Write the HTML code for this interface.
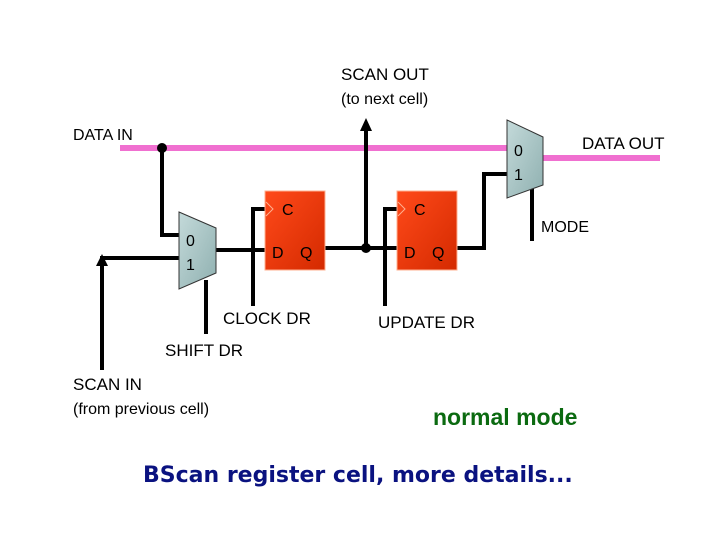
<!DOCTYPE html>
<html><head><meta charset="utf-8"><style>
html,body{margin:0;padding:0;background:#fff;}
svg{display:block;}
text{font-family:"Liberation Sans",Arial,sans-serif;fill:#000;}
</style></head><body>
<svg width="720" height="540" viewBox="0 0 720 540" xmlns="http://www.w3.org/2000/svg">
<defs>
<linearGradient id="ff" x1="0" y1="0" x2="1" y2="1"><stop offset="0" stop-color="#ff4a1a"/><stop offset="1" stop-color="#d42a00"/></linearGradient>
<linearGradient id="mx" x1="0" y1="0" x2="1" y2="1"><stop offset="0" stop-color="#c4dada"/><stop offset="1" stop-color="#8fb0b0"/></linearGradient>
</defs>
<!-- pink lines -->
<line x1="120" y1="148" x2="508" y2="148" stroke="#f070d0" stroke-width="6"/>
<line x1="543" y1="158" x2="660" y2="158" stroke="#f070d0" stroke-width="6"/>
<g stroke="#000" stroke-width="4" fill="none">
<polyline points="162,148 162,235 180,235"/>
<polyline points="102,370 102,258 180,258"/>
<line x1="216" y1="250" x2="265" y2="250"/>
<polyline points="253,306 253,209 267,209"/>
<line x1="206" y1="280" x2="206" y2="334"/>
<line x1="325" y1="248" x2="398" y2="248"/>
<line x1="366" y1="248" x2="366" y2="128"/>
<polyline points="385,306 385,209 398,209"/>
<polyline points="457,248 484,248 484,174 508,174"/>
<line x1="532" y1="185" x2="532" y2="241"/>
</g>
<polygon points="102,254 96,266 108,266" fill="#000"/>
<polygon points="366,118 360,131 372,131" fill="#000"/>
<circle cx="162" cy="148" r="5" fill="#000"/>
<circle cx="366" cy="248" r="5" fill="#000"/>
<!-- flip flops -->
<rect x="265" y="191" width="60" height="79" fill="url(#ff)" stroke="#ffb090" stroke-width="1"/>
<rect x="397" y="191" width="60" height="79" fill="url(#ff)" stroke="#ffb090" stroke-width="1"/>
<polyline points="266,202 273,209 266,216" fill="none" stroke="#ffb090" stroke-width="1"/>
<polyline points="398,202 405,209 398,216" fill="none" stroke="#ffb090" stroke-width="1"/>
<text x="282" y="215" font-size="16">C</text>
<text x="414" y="215" font-size="16">C</text>
<text x="272" y="258" font-size="16">D</text>
<text x="300" y="258" font-size="16">Q</text>
<text x="404" y="258" font-size="16">D</text>
<text x="432" y="258" font-size="16">Q</text>
<!-- muxes -->
<polygon points="179,212 216,228 216,273 179,289" fill="url(#mx)" stroke="#333" stroke-width="1"/>
<polygon points="507,120 543,137 543,185 507,198" fill="url(#mx)" stroke="#333" stroke-width="1"/>
<text x="186" y="246" font-size="16">0</text>
<text x="186" y="270" font-size="16">1</text>
<text x="514" y="156" font-size="16">0</text>
<text x="514" y="180" font-size="16">1</text>
<!-- labels -->
<text x="341" y="80" font-size="17">SCAN OUT</text>
<text x="341" y="104" font-size="16">(to next cell)</text>
<text x="73" y="140" font-size="16">DATA IN</text>
<text x="582" y="149" font-size="17">DATA OUT</text>
<text x="541" y="232" font-size="16">MODE</text>
<text x="223" y="324" font-size="17">CLOCK DR</text>
<text x="378" y="328" font-size="17">UPDATE DR</text>
<text x="165" y="356" font-size="17">SHIFT DR</text>
<text x="73" y="390" font-size="17">SCAN IN</text>
<text x="73" y="414" font-size="16">(from previous cell)</text>
<text x="433" y="425" font-size="23" font-weight="bold" style="fill:#0b6a10">normal mode</text>
<text x="143" y="482" font-size="22" font-weight="bold" style="font-family:'DejaVu Sans',Verdana,sans-serif;fill:#0a1280">BScan register cell, more details...</text>
</svg>
</body></html>
